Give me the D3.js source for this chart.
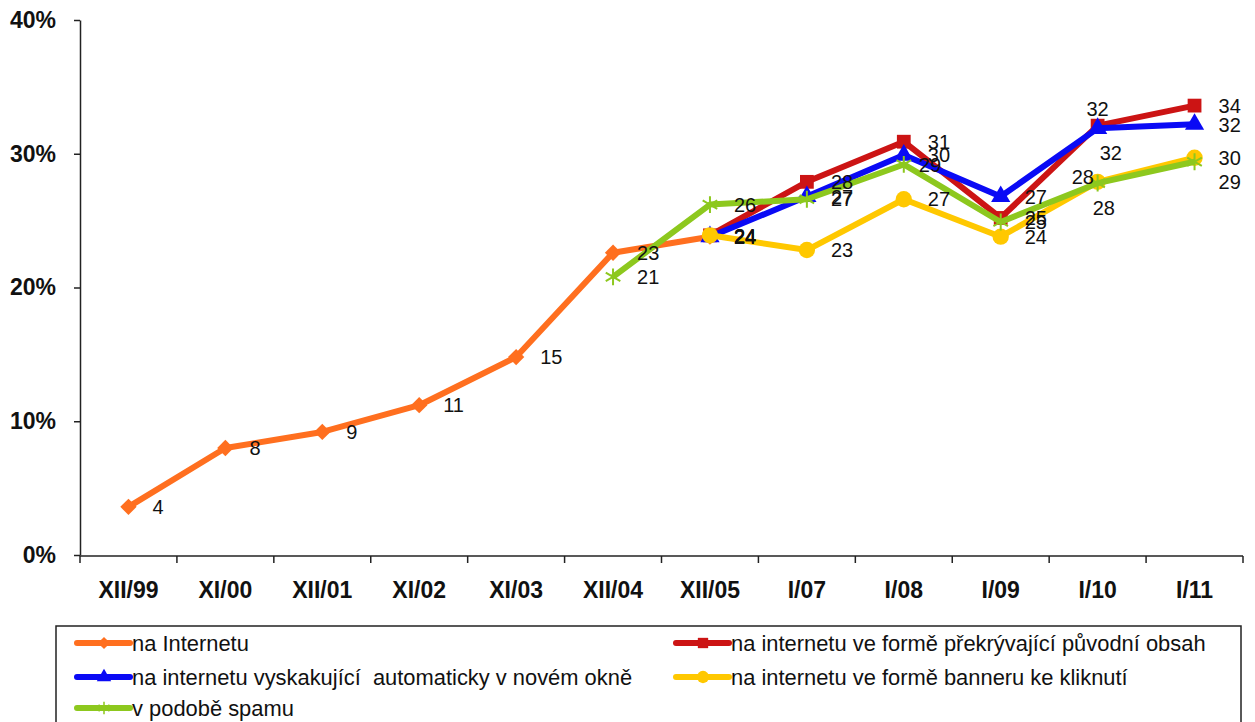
<!DOCTYPE html>
<html>
<head>
<meta charset="utf-8">
<script src="https://cdn.jsdelivr.net/npm/d3@7"></script>
<style>
  body { margin: 0; background: #fff; }
  svg { display: block; }
  text { font-family: "Liberation Sans", Arial, sans-serif; }
</style>
</head>
<body>
<div id="container"></div>
<script>
let w = 1255;
let h = 722;

// data (percent)
let categories = ["XII/99", "XI/00", "XII/01", "XI/02", "XI/03", "XII/04", "XII/05", "I/07", "I/08", "I/09", "I/10", "I/11"];
let naInternetu  = [3.6, 8.0, 9.2, 11.2, 14.8, 22.6, 23.8, null, null, null, null, null];
let prekryvajici = [null, null, null, null, null, null, 23.9, 27.9, 30.9, 25.2, 32.1, 33.6];
let vyskakujici  = [null, null, null, null, null, null, 23.8, 26.8, 29.9, 26.8, 31.9, 32.2];
let banner       = [null, null, null, null, null, null, 23.9, 22.8, 26.6, 23.8, 27.9, 29.7];
let spam         = [null, null, null, null, null, 20.8, 26.2, 26.6, 29.2, 24.9, 27.8, 29.4];
let yTicks = [0, 10, 20, 30, 40];

let series = [
  { name: "na Internetu", values: naInternetu, color: "#FF6F1F", shape: "diamond" },
  { name: "na internetu ve formě překrývající původní obsah", values: prekryvajici, color: "#CC1414", shape: "square" },
  { name: "na internetu vyskakující  automaticky v novém okně", values: vyskakujici, color: "#0A0AF5", shape: "triangle" },
  { name: "na internetu ve formě banneru ke kliknutí", values: banner, color: "#FFC800", shape: "circle" },
  { name: "v podobě spamu", values: spam, color: "#8DC81E", shape: "asterisk" }
];

// where a few labels sit away from the default spot (series index, category index)
let labelNudge = {
  "1-10": { dx: 0, dy: -17, anchor: "middle" },
  "2-10": { dx: 2, dy: 24 },
  "3-10": { dx: -5, dy: 26 },
  "4-10": { dx: -26, dy: -6 },
  "4-8": { dx: 15, dy: 0 },
  "4-11": { dx: 24, dy: 20 }
};

let viz = d3.select("#container")
  .append("svg")
    .attr("width", w)
    .attr("height", h)
    .style("background-color", "white")
;

let x = d3.scaleBand().domain(categories).range([80, 1243]);
let y = d3.scaleLinear().domain([0, 40]).range([555, 20]);
let cx = c => x(c) + x.bandwidth() / 2;

// y axis
let yAxis = viz.append("g")
  .attr("transform", "translate(80,0)")
  .call(d3.axisLeft(y).tickValues(yTicks).tickSize(6).tickSizeOuter(0).tickPadding(18).tickFormat(d => d + "%"))
;
yAxis.selectAll("text").style("font-size", "23px").style("font-weight", "bold").attr("fill", "#111");
yAxis.selectAll("line").attr("stroke", "#222").attr("stroke-width", 1.5);
yAxis.select(".domain").attr("stroke", "#222").attr("stroke-width", 1.5);

// x axis
let xAxis = viz.append("g")
  .attr("transform", "translate(0,556)")
  .call(d3.axisBottom(x).tickSize(0).tickPadding(26))
;
xAxis.select(".domain").remove();
xAxis.selectAll("text").style("font-size", "23px").style("font-weight", "bold").attr("fill", "#111");

viz.append("line")
  .attr("x1", x.range()[0])
  .attr("x2", x.range()[1])
  .attr("y1", 556)
  .attr("y2", 556)
  .style("stroke", "#222")
  .style("stroke-width", 1.5)
;
let bounds = categories.map(c => x(c)).concat([x.range()[1]]);
viz.selectAll(".xtick").data(bounds).enter()
  .append("line")
    .attr("class", "xtick")
    .attr("x1", d => d)
    .attr("x2", d => d)
    .attr("y1", 556)
    .attr("y2", 563)
    .style("stroke", "#222")
    .style("stroke-width", 1.5)
;

function markerPath(shape) {
  if (shape == "diamond") return d3.symbol(d3.symbolDiamond2, 170)();
  if (shape == "square") return d3.symbol(d3.symbolSquare, 190)();
  if (shape == "triangle") return d3.symbol(d3.symbolTriangle, 160)();
  if (shape == "circle") return d3.symbol(d3.symbolCircle, 210)();
  return d3.symbol(d3.symbolAsterisk, 200)();
}

function drawMarker(g, shape, color) {
  let p = g.append("path").attr("d", markerPath(shape));
  if (shape == "asterisk") {
    p.style("fill", "none").style("stroke", color).style("stroke-width", 2);
  } else {
    p.style("fill", color);
  }
}

let line = d3.line()
  .defined(d => d.v != null)
  .x(d => cx(d.c))
  .y(d => y(d.v))
;

let plot = viz.append("g").attr("class", "plot");

series.forEach(function(s, si) {
  let pts = categories.map((c, i) => ({ c: c, v: s.values[i], i: i }));
  plot.append("path")
    .datum(pts)
    .attr("d", line)
    .style("fill", "none")
    .style("stroke", s.color)
    .style("stroke-width", 6)
    .style("stroke-linejoin", "round")
  ;
  pts.filter(d => d.v != null).forEach(function(d) {
    let m = plot.append("g").attr("transform", "translate(" + cx(d.c) + "," + y(d.v) + ")");
    drawMarker(m, s.shape, s.color);
  });
});

// data labels on top of everything
let labels = viz.append("g").attr("class", "labels");
series.forEach(function(s, si) {
  categories.forEach(function(c, i) {
    let v = s.values[i];
    if (v == null) return;
    let n = labelNudge[si + "-" + i] || { dx: 24, dy: 0 };
    labels.append("text")
      .text(Math.round(v))
      .attr("x", cx(c) + n.dx)
      .attr("y", y(v) + n.dy)
      .attr("dy", "0.36em")
      .attr("text-anchor", n.anchor || "start")
      .attr("font-size", 20)
      .attr("fill", "#111")
    ;
  });
});

// legend
viz.append("rect")
  .attr("x", 56)
  .attr("y", 626)
  .attr("width", 1185)
  .attr("height", 130)
  .style("fill", "white")
  .style("stroke", "#222")
  .style("stroke-width", 1.5)
;

let legendX = [77, 676];
let legendY = [643, 677, 708];

let legend = viz.selectAll(".legenditem").data(series).enter()
  .append("g")
    .attr("class", "legenditem")
    .attr("transform", (d, i) => "translate(" + legendX[i % 2] + "," + legendY[Math.floor(i / 2)] + ")")
;
legend.append("line")
  .attr("x1", 0)
  .attr("x2", 53)
  .attr("y1", 0)
  .attr("y2", 0)
  .style("stroke", d => d.color)
  .style("stroke-width", 6)
  .style("stroke-linecap", "round")
;
legend.each(function(d) {
  let m = d3.select(this).append("g").attr("transform", "translate(27,0) scale(0.75)");
  drawMarker(m, d.shape, d.color);
});
legend.append("text")
  .text(d => d.name)
  .attr("x", 55)
  .attr("y", 0)
  .attr("dy", "0.36em")
  .attr("font-size", 21.9)
  .attr("fill", "#111")
  .style("white-space", "pre")
;
</script>
</body>
</html>
